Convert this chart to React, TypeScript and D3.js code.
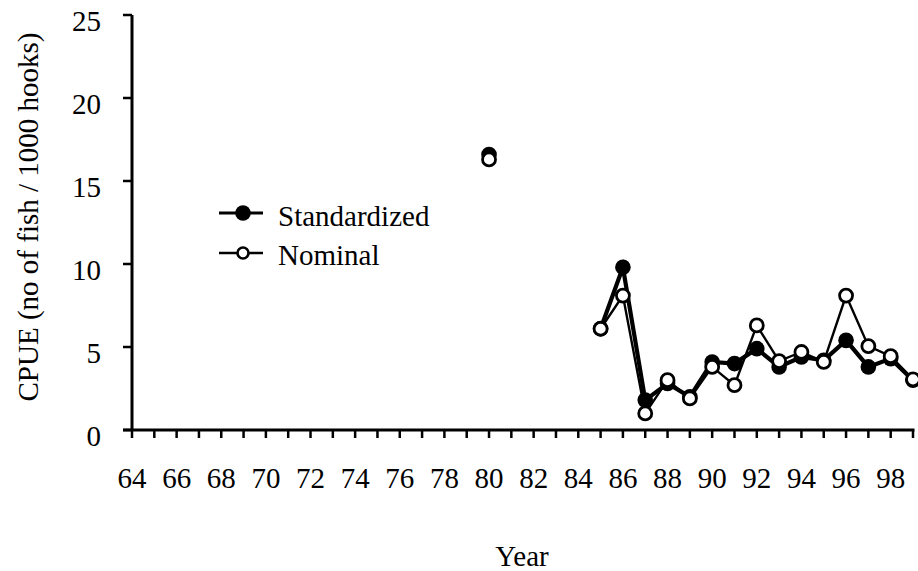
import React from 'react';
import * as d3 from 'd3';

// year ticks 64..99
const tickYears = d3.range(64, 100);
const labelYears = d3.range(64, 100, 2);
const yTicks = [0, 5, 10, 15, 20, 25];

const dataYears = [80, 85, 86, 87, 88, 89, 90, 91, 92, 93, 94, 95, 96, 97, 98, 99];
const standardized = [16.6, 6.1, 9.8, 1.8, 2.8, 2.0, 4.1, 4.0, 4.9, 3.8, 4.4, 4.2, 5.4, 3.8, 4.3, 3.0];
const nominal = [16.3, 6.1, 8.1, 1.0, 3.0, 1.9, 3.8, 2.7, 6.3, 4.15, 4.7, 4.1, 8.1, 5.05, 4.45, 3.05];

const width = 918;
const height = 571;
const left = 132;
const right = 913;
const top = 15;
const bottom = 430;
const font = '"Liberation Serif", "Times New Roman", serif';
const fs = 29;

function segments(values: number[]) {
  // break the line where years are not consecutive
  const segs: [number, number][][] = [];
  let cur: [number, number][] = [];
  dataYears.forEach((yr, i) => {
    if (i > 0 && yr - dataYears[i - 1] > 1) {
      if (cur.length > 1) segs.push(cur);
      cur = [];
    }
    cur.push([yr, values[i]]);
  });
  if (cur.length > 1) segs.push(cur);
  return segs;
}

export default function App() {
  const x = d3.scaleLinear().domain([64, 99]).range([left, right]);
  const y = d3.scaleLinear().domain([0, 25]).range([bottom, top]);
  const line = d3
    .line<[number, number]>()
    .x((d) => x(d[0]))
    .y((d) => y(d[1]));

  return (
    <svg
      width={width}
      height={height}
      style={{ position: 'absolute', left: 0, top: 0, background: '#fff' }}
      fontFamily={font}
    >
      {/* y axis */}
      <line x1={left} x2={left} y1={top} y2={bottom} stroke="#000" strokeWidth={3} />
      {yTicks.map((t) => (
        <g key={t}>
          <line x1={left - 9} x2={left} y1={y(t)} y2={y(t)} stroke="#000" strokeWidth={2.5} />
          <text x={101} y={y(t) + 6} dy="0.35em" textAnchor="end" fontSize={fs}>
            {t}
          </text>
        </g>
      ))}
      {/* x axis */}
      <line x1={left - 9} x2={right + 1.5} y1={bottom} y2={bottom} stroke="#000" strokeWidth={3} />
      {tickYears.map((t) => (
        <line key={t} x1={x(t)} x2={x(t)} y1={bottom} y2={bottom + 8} stroke="#000" strokeWidth={2.5} />
      ))}
      {labelYears.map((t) => (
        <text key={t} x={x(t)} y={488} textAnchor="middle" fontSize={fs}>
          {t}
        </text>
      ))}
      <text x={522} y={566} textAnchor="middle" fontSize={fs}>
        Year
      </text>
      <text
        transform={`translate(38,217) rotate(-90)`}
        textAnchor="middle"
        fontSize={fs}
      >
        CPUE (no of fish / 1000 hooks)
      </text>

      {/* lines */}
      {segments(nominal).map((s, i) => (
        <path key={'n' + i} d={line(s) || ''} fill="none" stroke="#000" strokeWidth={2.4} />
      ))}
      {segments(standardized).map((s, i) => (
        <path key={'s' + i} d={line(s) || ''} fill="none" stroke="#000" strokeWidth={4.2} />
      ))}
      {dataYears.map((yr, i) => (
        <circle key={'sc' + yr} cx={x(yr)} cy={y(standardized[i])} r={7.8} fill="#000" />
      ))}
      {dataYears.map((yr, i) => (
        <circle
          key={'nc' + yr}
          cx={x(yr)}
          cy={y(nominal[i])}
          r={6.5}
          fill="#fff"
          stroke="#000"
          strokeWidth={2.8}
        />
      ))}

      {/* legend */}
      <line x1={219} x2={263} y1={213} y2={213} stroke="#000" strokeWidth={3} />
      <circle cx={243} cy={213} r={7.8} fill="#000" />
      <text x={278} y={226} fontSize={fs}>
        Standardized
      </text>
      <line x1={219} x2={263} y1={253} y2={253} stroke="#000" strokeWidth={2.4} />
      <circle cx={243} cy={253} r={5.5} fill="#fff" stroke="#000" strokeWidth={2.6} />
      <text x={278} y={265} fontSize={fs}>
        Nominal
      </text>
    </svg>
  );
}
